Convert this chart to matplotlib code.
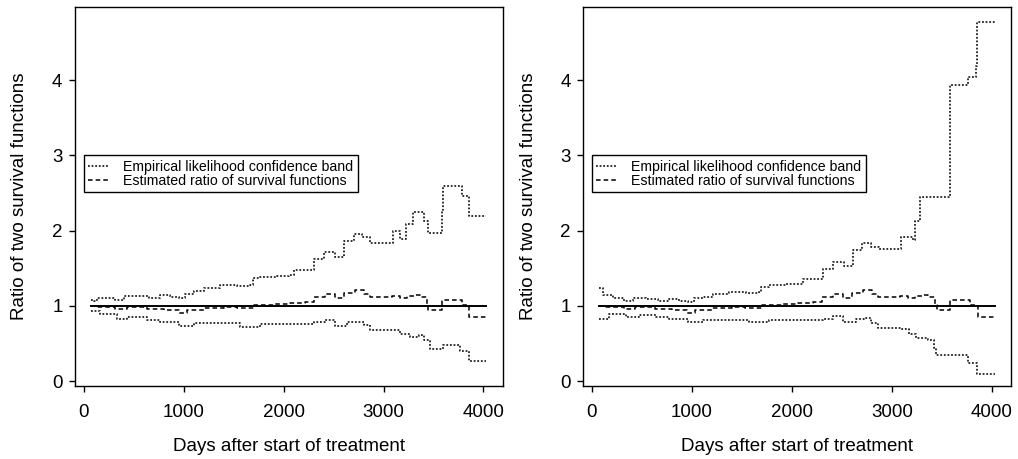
import matplotlib
matplotlib.use("Agg")
from matplotlib import pyplot as plt

plt.rcParams['font.family'] = ['Liberation Sans', 'DejaVu Sans']

# estimated ratio of the two survival functions (same in both panels)
est_x = [75, 130, 317, 433, 633, 800, 950, 1033, 1200, 1400, 1533, 1700, 1900,
         2067, 2217, 2300, 2417, 2517, 2600, 2717, 2800, 2867, 3083, 3167, 3233,
         3300, 3367, 3433, 3450, 3583, 3783, 3840, 3860, 4030]
est_y = [1.0, 0.98, 0.956, 0.987, 0.956, 0.94, 0.91, 0.95, 0.965, 0.987, 0.965,
         1.01, 1.02, 1.04, 1.05, 1.12, 1.155, 1.10, 1.17, 1.21, 1.16, 1.12, 1.13,
         1.106, 1.13, 1.14, 1.12, 1.01, 0.95, 1.075, 1.01, 1.0, 0.845, 0.845]

# left panel band
up1_x = [75, 105, 130, 317, 400, 533, 650, 767, 867, 950, 1017, 1100, 1200, 1367,
         1533, 1667, 1693, 1767, 1933, 2050, 2100, 2233, 2300, 2400, 2517, 2600,
         2700, 2783, 2867, 3093, 3167, 3223, 3290, 3350, 3400, 3450, 3583, 3593,
         3783, 3860, 4030]
up1_y = [1.075, 1.06, 1.106, 1.08, 1.13, 1.13, 1.106, 1.14, 1.12, 1.106, 1.16,
         1.195, 1.24, 1.27, 1.26, 1.28, 1.37, 1.385, 1.40, 1.41, 1.47, 1.48, 1.62,
         1.72, 1.65, 1.86, 1.95, 1.91, 1.84, 1.99, 1.89, 2.09, 2.25, 2.24, 2.12,
         1.97, 2.27, 2.59, 2.46, 2.19, 2.19]
lo1_x = [75, 167, 333, 433, 633, 767, 950, 1100, 1400, 1567, 1767, 2033, 2300,
         2417, 2517, 2633, 2717, 2800, 2867, 3083, 3167, 3267, 3350, 3400, 3467,
         3600, 3767, 3860, 4030]
lo1_y = [0.93, 0.89, 0.83, 0.854, 0.81, 0.79, 0.735, 0.765, 0.765, 0.72, 0.757,
         0.757, 0.79, 0.81, 0.735, 0.78, 0.79, 0.74, 0.677, 0.677, 0.63, 0.59,
         0.61, 0.544, 0.43, 0.478, 0.40, 0.265, 0.265]

# right panel band
up2_x = [75, 110, 210, 326, 410, 543, 660, 776, 876, 960, 1026, 1110, 1210, 1376,
         1543, 1676, 1692, 1775, 1942, 2108, 2308, 2408, 2525, 2608, 2698, 2791,
         2874, 3091, 3217, 3230, 3284, 3424, 3574, 3584, 3767, 3845, 3850, 4030]
up2_y = [1.23, 1.14, 1.106, 1.06, 1.10, 1.09, 1.067, 1.085, 1.06, 1.045, 1.106,
         1.12, 1.15, 1.18, 1.165, 1.18, 1.25, 1.27, 1.29, 1.36, 1.49, 1.58, 1.53,
         1.74, 1.83, 1.785, 1.75, 1.92, 1.88, 2.13, 2.44, 2.45, 2.46, 3.93, 4.04,
         4.19, 4.775, 4.775]
lo2_x = [75, 176, 343, 476, 643, 776, 960, 1110, 1410, 1576, 1776, 2042, 2308,
         2408, 2508, 2641, 2724, 2791, 2858, 3091, 3174, 3241, 3358, 3424, 3441,
         3758, 3850, 4030]
lo2_y = [0.82, 0.886, 0.855, 0.877, 0.855, 0.83, 0.79, 0.81, 0.81, 0.78, 0.81,
         0.81, 0.83, 0.87, 0.79, 0.82, 0.84, 0.775, 0.70, 0.69, 0.62, 0.567,
         0.545, 0.434, 0.345, 0.235, 0.09, 0.09]

bands = [(up1_x, up1_y, lo1_x, lo1_y), (up2_x, up2_y, lo2_x, lo2_y)]
lefts = [75 / 1018, 583.3 / 1018]

fig = plt.figure(figsize=(10.18, 4.59), dpi=100)
dot = (0, (1, 1))
dash = (0, (3, 2))

for (ux, uy, lx, ly), left in zip(bands, lefts):
    ax = fig.add_axes([left, 73 / 459, 428 / 1018, 379 / 459])
    ax.step(ux, uy, where='post', color='#222222', lw=1.3, linestyle=dot,
            label='Empirical likelihood confidence band')
    ax.step(lx, ly, where='post', color='#222222', lw=1.3, linestyle=dot)
    ax.step(est_x, est_y, where='post', color='black', lw=1.1, linestyle=dash,
            label='Estimated ratio of survival functions')
    ax.plot([75, 4030], [1, 1], color='black', lw=1.4)

    ax.set_xlim(-85, 4195)
    ax.set_ylim(-0.066, 4.97)
    ax.set_xticks([0, 1000, 2000, 3000, 4000])
    ax.set_yticks([0, 1, 2, 3, 4])
    ax.tick_params(direction='out', length=4, width=1, labelsize=13.5)
    ax.tick_params(axis='x', pad=9)
    ax.tick_params(axis='y', pad=5)
    for s in ax.spines.values():
        s.set_linewidth(1)
    ax.set_xlabel('Days after start of treatment', fontsize=13.5, labelpad=12)
    ax.set_ylabel('Ratio of two survival functions', fontsize=13.5, labelpad=17)

    leg = ax.legend(loc='upper left', bbox_to_anchor=(0, 3.0),
                    bbox_transform=ax.transData, fontsize=10.2, frameon=True,
                    fancybox=False, edgecolor='black', framealpha=1,
                    handlelength=1.4, handletextpad=1.1, labelspacing=0.0,
                    borderpad=0.3, borderaxespad=0)
    leg.get_frame().set_linewidth(1)

fig.savefig('out.png', dpi=100)
